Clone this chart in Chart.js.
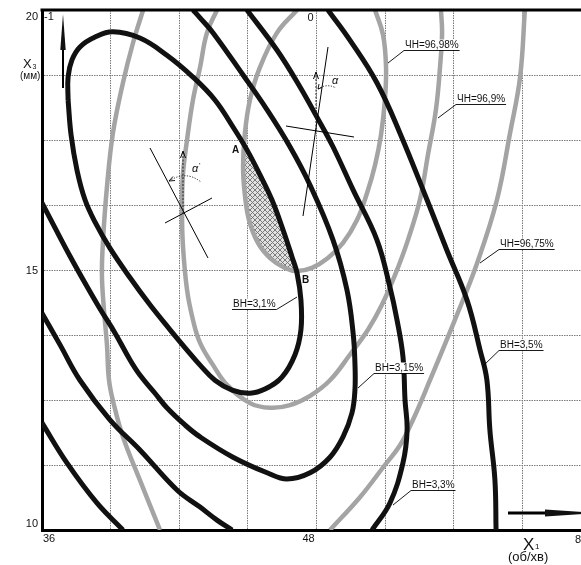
<!DOCTYPE html>
<html><head><meta charset="utf-8">
<script src="https://cdn.jsdelivr.net/npm/chart.js@4.4.0/dist/chart.umd.min.js"></script>
<style>
html,body{margin:0;padding:0;overflow:hidden;background:#fff;width:581px;height:565px}
#wrap{position:relative;width:600px;height:565px}
</style></head><body>
<div id="wrap"><canvas id="c" width="600" height="565"></canvas></div>
<script>
// ---- tick labels ----
const xTickValues = [36, 48, 60];
const xTickLabels = ['36', '48', '80'];
const yTickValues = [10, 15, 20];
const yTickLabels = ['10', '15', '20'];
const codedLabels = ['-1', '0'];

// ---- ВН contours (black) ----
const bh31 = [[37.14,18.27],[37.14,18.71],[37.31,19.04],[37.66,19.29],[38.32,19.48],[39.10,19.58],[40.28,19.46],[41.46,19.13],[42.60,18.71],[43.56,18.27],[44.35,17.75],[44.96,17.31],[45.53,16.83],[46.05,16.35],[46.54,15.77],[46.93,15.25],[47.15,14.94],[47.32,14.42],[47.32,13.85],[47.06,13.37],[46.49,12.94],[45.75,12.71],[45.09,12.63],[44.31,12.69],[43.56,12.88],[42.91,13.17],[42.34,13.46],[41.60,13.85],[40.72,14.33],[39.85,14.85],[38.97,15.42],[38.32,15.92],[37.88,16.35],[37.53,16.92],[37.27,17.60],[37.14,18.27]];
const bh315 = [[36.00,16.29],[36.57,15.81],[37.22,15.27],[37.88,14.75],[38.54,14.25],[39.19,13.79],[39.85,13.27],[40.28,12.98],[40.94,12.63],[41.46,12.35],[42.25,12.02],[42.91,11.79],[44.35,11.40],[45.84,11.10],[46.71,10.98],[47.72,11.10],[48.59,11.40],[49.16,11.79],[49.55,12.25],[49.68,12.69],[49.68,13.21],[49.60,13.79],[49.33,14.62],[48.72,15.58],[47.72,16.63],[46.84,17.37],[45.84,18.08],[44.79,18.75],[43.48,19.56],[42.91,19.85],[42.60,20.00]];
const bh33Left = [[36.00,14.17],[36.79,13.56],[37.66,12.88],[38.97,12.12],[40.28,11.54],[41.90,10.77],[42.91,10.44],[43.65,10.19],[44.31,10.00]];
const bh33Right = [[50.43,10.00],[51.21,10.52],[51.78,11.29],[51.96,11.92],[51.87,12.50],[51.78,13.33],[51.52,14.04],[51.21,14.67],[50.64,15.58],[49.60,16.54],[48.72,17.37],[48.02,17.94],[47.28,18.52],[46.27,19.23],[44.96,20.00]];
const bh35Left = [[36.00,12.06],[37.09,11.29],[38.40,10.52],[39.54,10.00]];
const bh35Right = [[48.50,20.00],[49.46,19.42],[50.64,18.60],[51.65,17.63],[52.83,16.35],[53.70,15.38],[54.58,14.42],[55.15,13.46],[55.45,12.88],[55.58,11.92],[55.80,10.96],[55.85,10.00]];

// ---- ЧН contours (grey) ----
const ch9698 = [[47.15,20.00],[46.27,19.56],[45.53,18.90],[45.09,18.27],[44.87,17.63],[44.79,16.98],[44.87,16.44],[45.05,15.96],[45.44,15.52],[45.97,15.23],[46.62,15.04],[47.15,14.98],[47.80,15.04],[48.50,15.23],[49.16,15.52],[49.77,15.96],[50.21,16.48],[50.56,17.02],[50.82,17.60],[50.99,18.27],[51.04,18.90],[50.91,19.52],[50.56,20.00]];
const ch969 = [[43.65,20.00],[43.21,19.56],[42.91,18.90],[42.60,18.27],[42.34,17.50],[42.16,16.83],[42.12,16.15],[42.16,15.48],[42.34,14.62],[42.60,14.04],[42.91,13.60],[43.48,13.17],[44.09,12.79],[45.09,12.44],[45.97,12.35],[46.84,12.40],[47.72,12.58],[48.59,12.88],[49.46,13.37],[50.25,13.85],[50.86,14.33],[51.43,14.90],[52.00,15.58],[52.52,16.35],[52.87,17.21],[53.22,18.08],[53.40,18.90],[53.49,19.56],[53.44,20.00]];
const ch9675Left = [[40.42,20.00],[39.98,19.37],[39.54,18.60],[39.10,17.63],[38.84,16.60],[38.67,15.58],[38.62,14.90],[38.71,14.23],[38.84,13.56],[38.93,12.88],[39.15,12.40],[39.54,11.79],[40.28,10.96],[41.16,10.00]];
const ch9675Right = [[57.11,20.00],[56.90,18.71],[56.46,17.63],[55.89,16.35],[55.02,15.13],[54.05,14.04],[52.96,12.88],[52.22,12.12],[51.65,11.63],[50.99,11.25],[49.90,10.63],[48.59,10.00]];

// ---- optimum region A-B ----
const optimum = [[44.83,17.31],[44.79,16.98],[44.87,16.44],[45.05,15.96],[45.44,15.52],[45.97,15.23],[46.62,15.04],[47.06,14.98],[46.93,15.25],[46.54,15.77],[46.05,16.35],[45.53,16.83],[44.96,17.31]];

const pts = a => a.map(p => ({x: p[0], y: p[1]}));

function hatchPattern() {
  const p = document.createElement('canvas'); p.width = 5; p.height = 5;
  const g = p.getContext('2d');
  g.fillStyle = '#e2e2e2'; g.fillRect(0, 0, 5, 5);
  g.strokeStyle = '#6f6f6f'; g.lineWidth = 0.9;
  g.beginPath(); g.moveTo(0, 0); g.lineTo(5, 5); g.moveTo(5, 0); g.lineTo(0, 5); g.stroke();
  return g.createPattern(p, 'repeat');
}

const BLACK = '#111', GREY = '#a4a4a4';
const blackDs = (d) => ({data: pts(d), showLine: true, borderColor: BLACK, borderWidth: 5, pointRadius: 0, tension: 0.4, fill: false});
const greyDs = (d) => ({data: pts(d), showLine: true, borderColor: GREY, borderWidth: 4.5, pointRadius: 0, tension: 0.4, fill: false});

const FONT = '"Liberation Sans", Arial, sans-serif';

const annot = {
  id: 'annot',
  beforeDraw(chart) {
    const c = chart.ctx; c.save(); c.fillStyle = '#fff'; c.fillRect(0, 0, chart.width, chart.height); c.restore();
  },
  afterDraw(chart) {
    const ctx = chart.ctx, xs = chart.scales.x, ys = chart.scales.y, a = chart.chartArea;
    ctx.save();
    const line = (x1, y1, x2, y2, w, col, dash) => {
      ctx.beginPath(); ctx.lineWidth = w || 1; ctx.strokeStyle = col || '#000';
      ctx.setLineDash(dash || []); ctx.moveTo(x1, y1); ctx.lineTo(x2, y2); ctx.stroke(); ctx.setLineDash([]);
    };
    const txt = (s, x, y, font, align) => {
      ctx.font = font; ctx.textAlign = align || 'left'; ctx.textBaseline = 'alphabetic';
      ctx.fillStyle = '#111'; ctx.fillText(s, x, y);
    };
    const tri = (x1, y1, x2, y2, x3, y3) => {
      ctx.beginPath(); ctx.moveTo(x1, y1); ctx.lineTo(x2, y2); ctx.lineTo(x3, y3); ctx.closePath();
      ctx.fillStyle = '#111'; ctx.fill();
    };
    // top frame line
    line(a.left - 1.5, a.top, a.right, a.top, 3, '#000');

    // tick labels
    const f11 = '11px ' + FONT;
    txt(xTickLabels[0], xs.getPixelForValue(xTickValues[0]) + 1, a.bottom + 12, f11, 'left');
    txt(xTickLabels[1], xs.getPixelForValue(xTickValues[1]) - 8, a.bottom + 12, f11, 'center');
    txt(xTickLabels[2], xs.getPixelForValue(xTickValues[2]) - 16, a.bottom + 13, f11, 'left');
    txt(yTickLabels[0], a.left - 4, ys.getPixelForValue(yTickValues[0]) - 3, f11, 'right');
    txt(yTickLabels[1], a.left - 4, ys.getPixelForValue(yTickValues[1]) + 4, f11, 'right');
    txt(yTickLabels[2], a.left - 4, ys.getPixelForValue(yTickValues[2]) + 10, f11, 'right');
    txt(codedLabels[0], a.left + 2, a.top + 10, f11, 'left');
    txt(codedLabels[1], xs.getPixelForValue(xTickValues[1]) - 6, a.top + 11, f11, 'center');

    // axis titles
    txt('X', 23, 68, '13px ' + FONT, 'left');
    txt('3', 32.5, 69, '7px ' + FONT, 'left');
    txt('(мм)', 20, 79, '10px ' + FONT, 'left');
    txt('X', 523, 550, '17px ' + FONT, 'left');
    txt('1', 535, 549, '8px ' + FONT, 'left');
    txt('(об/хв)', 508, 561, '13px ' + FONT, 'left');

    // axis arrows
    line(63, 88, 63, 48, 2);
    tri(63, 14, 60.3, 50, 65.7, 50);
    line(508, 513, 548, 513, 3);
    tri(598, 513, 545, 509.5, 545, 516.5);

    // labels with underline and leader
    const f10 = '10px ' + FONT;
    const tag = (s, x, y, lx, ly, fromRight) => {
      ctx.font = f10;
      const w = ctx.measureText(s).width;
      ctx.fillStyle = '#fff'; ctx.fillRect(x - 1, y - 8.5, w + 2, 10.5);
      txt(s, x, y, f10, 'left');
      line(x - 1, y + 2.5, x + w + 1, y + 2.5, 0.9);
      if (fromRight) line(x + w + 1, y + 2.5, lx, ly, 0.9);
      else line(x - 1, y + 2.5, lx, ly, 0.9);
    };
    tag('ЧН=96,98%', 405, 48, 388, 63);
    tag('ЧН=96,9%', 457, 102, 438, 118);
    tag('ЧН=96,75%', 500, 247, 480, 263);
    tag('ВН=3,5%', 500, 348, 483, 366);
    tag('ВН=3,15%', 375, 371, 358, 388);
    tag('ВН=3,1%', 233, 307, 297, 297, true);
    tag('ВН=3,3%', 412, 488, 393, 505);

    // points A, B
    txt('A', 232, 153, 'bold 10px ' + FONT, 'left');
    txt('B', 302, 283, 'bold 10px ' + FONT, 'left');

    // angle diagram (left)
    line(150, 148, 208, 258, 1);
    line(165, 223, 212, 198, 1);
    line(183, 214, 183, 153, 1, '#222', [2, 1.5]);
    line(183, 151, 180.5, 158, 1); line(183, 151, 185.5, 158, 1);
    ctx.beginPath(); ctx.setLineDash([1.2, 1.5]); ctx.lineWidth = 1; ctx.strokeStyle = '#222';
    ctx.moveTo(169, 181); ctx.quadraticCurveTo(186, 170, 201, 182); ctx.stroke(); ctx.setLineDash([]);
    line(169, 181, 173, 176.5, 0.9); line(169, 181, 175, 180.5, 0.9);
    txt('α', 192, 172, 'italic 11px ' + FONT, 'left');
    txt('\'', 199, 168, '8px ' + FONT, 'left');

    // angle diagram (right)
    line(328, 47, 303, 216, 1);
    line(286, 126, 354, 137, 1);
    line(316, 130, 316, 74, 1, '#222', [2, 1.5]);
    line(316, 72, 313.5, 79, 1); line(316, 72, 318.5, 79, 1);
    ctx.beginPath(); ctx.setLineDash([1.2, 1.5]); ctx.lineWidth = 1; ctx.strokeStyle = '#222';
    ctx.moveTo(318, 89); ctx.quadraticCurveTo(327, 83, 336, 88); ctx.stroke(); ctx.setLineDash([]);
    line(318, 89, 319, 84, 0.9); line(318, 89, 322, 87.5, 0.9);
    txt('α', 332, 84, 'italic 11px ' + FONT, 'left');
    ctx.restore();
  }
};

const datasets = [
  blackDs(bh31), blackDs(bh315), blackDs(bh33Left), blackDs(bh33Right), blackDs(bh35Left), blackDs(bh35Right),
  greyDs(ch9698), greyDs(ch969), greyDs(ch9675Left), greyDs(ch9675Right),
  {data: pts(optimum), showLine: true, borderWidth: 0, borderColor: 'rgba(0,0,0,0)', pointRadius: 0, tension: 0.3,
   fill: 'shape', backgroundColor: hatchPattern()}
];

new Chart(document.getElementById('c'), {
  type: 'scatter',
  data: {datasets},
  options: {
    responsive: false, animation: false, devicePixelRatio: 1,
    layout: {padding: {left: 42, right: 9, top: 10, bottom: 35}},
    plugins: {legend: {display: false}, tooltip: {enabled: false}},
    scales: {
      x: {type: 'linear', min: 36, max: 60, ticks: {stepSize: 3, display: false},
          grid: {color: '#7a7a7a', lineWidth: 1, drawTicks: false},
          border: {display: true, color: '#000', width: 3, dash: [1.5, 1]}},
      y: {type: 'linear', min: 10, max: 20, ticks: {stepSize: 1.25, display: false},
          grid: {color: '#7a7a7a', lineWidth: 1, drawTicks: false},
          border: {display: true, color: '#000', width: 3, dash: [1.5, 1]}}
    }
  },
  plugins: [annot]
});
</script>
</body></html>
